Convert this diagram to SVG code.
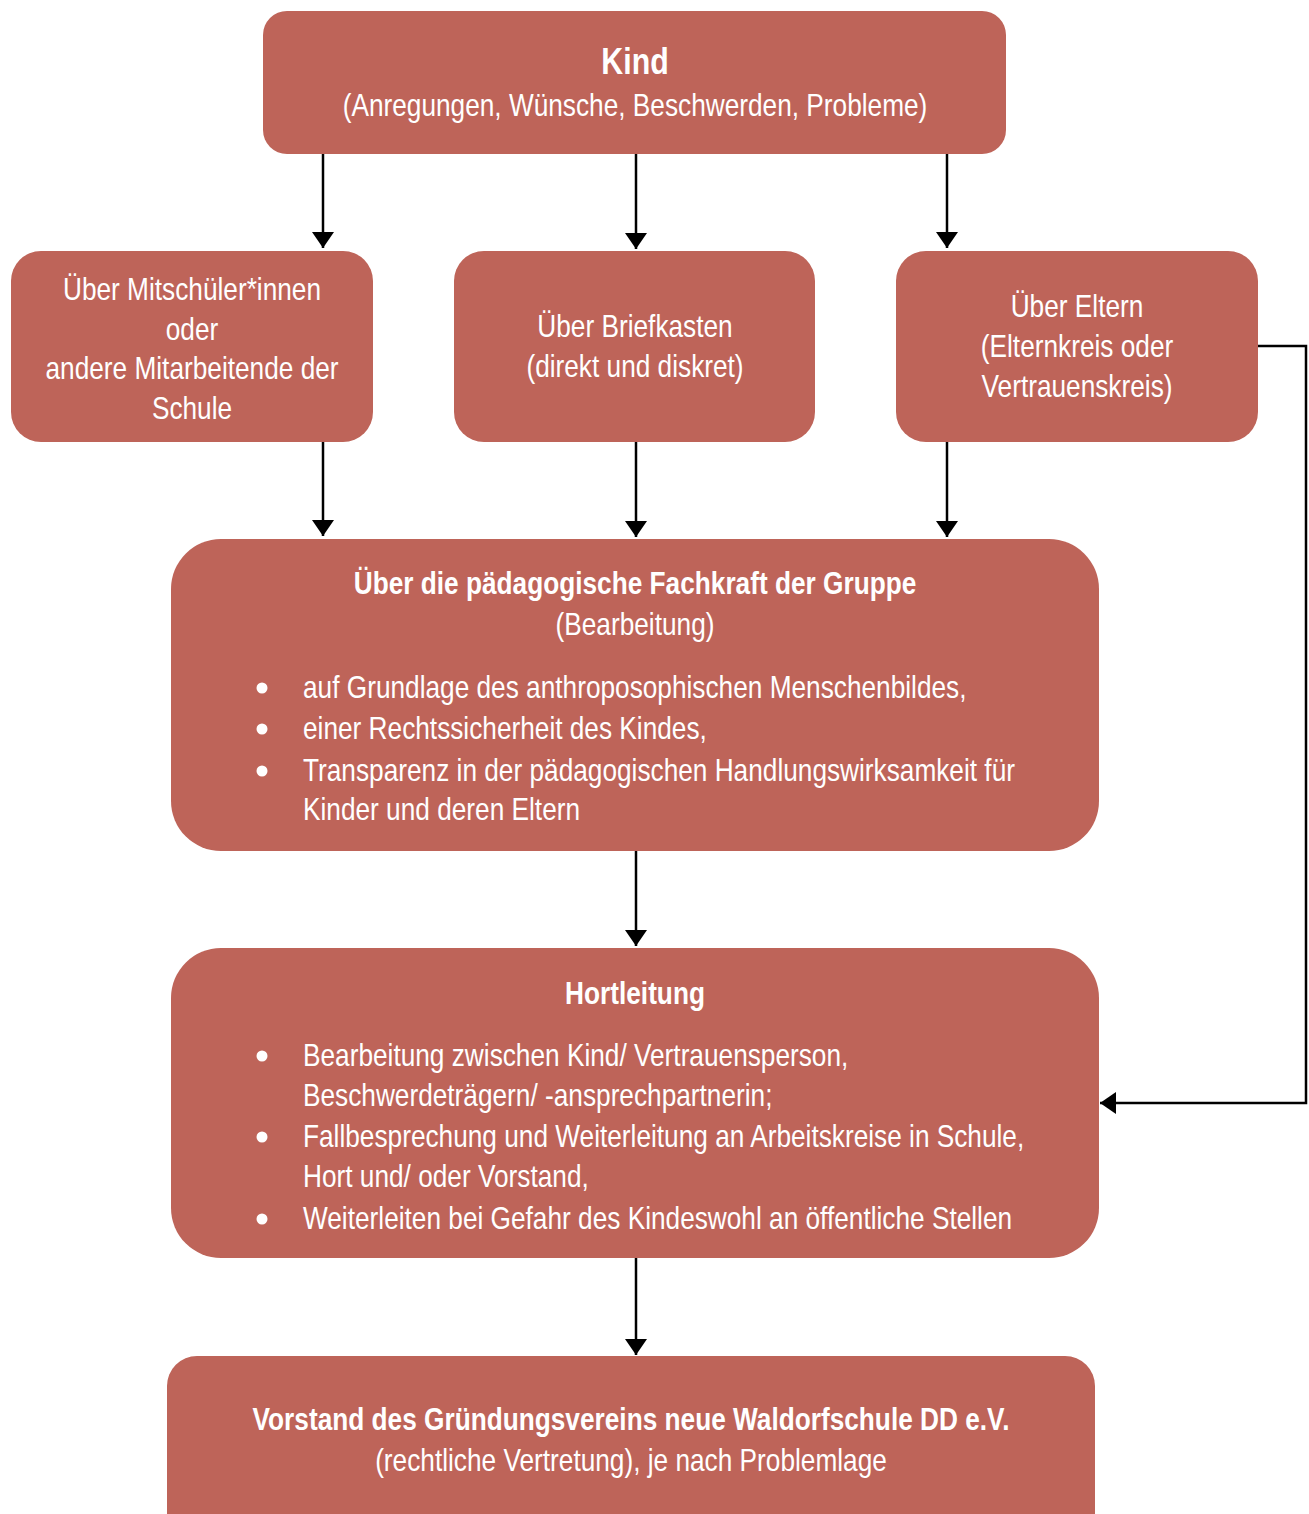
<svg xmlns="http://www.w3.org/2000/svg" width="1309" height="1514" viewBox="0 0 1309 1514">
<defs>
<style>
.box{fill:#BE6459;}
text{font-family:"Liberation Sans Narrow","Liberation Sans",Arial,sans-serif;font-size:32px;fill:#ffffff;}
.c{text-anchor:middle;}
.b{font-weight:bold;}
.conn{stroke:#000;stroke-width:2.5;fill:none;}
.dot{fill:#fff;}
</style>
<marker id="ah" viewBox="0 0 16 22" refX="16" refY="11" markerWidth="16" markerHeight="22" markerUnits="userSpaceOnUse" orient="auto">
<path d="M0,0 L16,11 L0,22 z" fill="#000"/>
</marker>
</defs>
<rect width="1309" height="1514" fill="#fff"/>
<g id="connectors">
<path class="conn" d="M323,154 V248" marker-end="url(#ah)"/>
<path class="conn" d="M636,154 V249" marker-end="url(#ah)"/>
<path class="conn" d="M947,154 V248" marker-end="url(#ah)"/>
<path class="conn" d="M323,442 V536" marker-end="url(#ah)"/>
<path class="conn" d="M636,442 V537" marker-end="url(#ah)"/>
<path class="conn" d="M947,442 V537" marker-end="url(#ah)"/>
<path class="conn" d="M636,851 V946" marker-end="url(#ah)"/>
<path class="conn" d="M636,1258 V1355" marker-end="url(#ah)"/>
<path class="conn" d="M1258,346 H1306 V1103 H1100" marker-end="url(#ah)"/>
</g>
<g id="kind">
<rect class="box" x="263" y="11" width="743" height="143" rx="24"/>
<text class="c b" transform="matrix(0.82,0,0,1,635,74)" style="font-size:37px">Kind</text>
<text class="c" transform="matrix(0.82,0,0,1,635,116)">(Anregungen, Wünsche, Beschwerden, Probleme)</text>
</g>
<g id="mitschueler">
<rect class="box" x="11" y="251" width="362" height="191" rx="30"/>
<text class="c" transform="matrix(0.82,0,0,1,192,300)">Über Mitschüler*innen</text>
<text class="c" transform="matrix(0.82,0,0,1,192,340)">oder</text>
<text class="c" transform="matrix(0.82,0,0,1,192,379)">andere Mitarbeitende der</text>
<text class="c" transform="matrix(0.82,0,0,1,192,419)">Schule</text>
</g>
<g id="briefkasten">
<rect class="box" x="454" y="251" width="361" height="191" rx="30"/>
<text class="c" transform="matrix(0.82,0,0,1,635,337)">Über Briefkasten</text>
<text class="c" transform="matrix(0.82,0,0,1,635,377)">(direkt und diskret)</text>
</g>
<g id="eltern">
<rect class="box" x="896" y="251" width="362" height="191" rx="30"/>
<text class="c" transform="matrix(0.82,0,0,1,1077,317)">Über Eltern</text>
<text class="c" transform="matrix(0.82,0,0,1,1077,357)">(Elternkreis oder</text>
<text class="c" transform="matrix(0.82,0,0,1,1077,397)">Vertrauenskreis)</text>
</g>
<g id="fachkraft">
<rect class="box" x="171" y="539" width="928" height="312" rx="50"/>
<text class="c b" transform="matrix(0.82,0,0,1,635,594)">Über die pädagogische Fachkraft der Gruppe</text>
<text class="c" transform="matrix(0.82,0,0,1,635,635)">(Bearbeitung)</text>
<circle class="dot" cx="262" cy="688" r="5.5"/>
<circle class="dot" cx="262" cy="729" r="5.5"/>
<circle class="dot" cx="262" cy="771" r="5.5"/>
<text transform="matrix(0.82,0,0,1,303,698)">auf Grundlage des anthroposophischen Menschenbildes,</text>
<text transform="matrix(0.82,0,0,1,303,739)">einer Rechtssicherheit des Kindes,</text>
<text transform="matrix(0.82,0,0,1,303,781)">Transparenz in der pädagogischen Handlungswirksamkeit für</text>
<text transform="matrix(0.82,0,0,1,303,820)">Kinder und deren Eltern</text>
</g>
<g id="hortleitung">
<rect class="box" x="171" y="948" width="928" height="310" rx="50"/>
<text class="c b" transform="matrix(0.82,0,0,1,635,1004)">Hortleitung</text>
<circle class="dot" cx="262" cy="1056" r="5.5"/>
<circle class="dot" cx="262" cy="1137" r="5.5"/>
<circle class="dot" cx="262" cy="1219" r="5.5"/>
<text transform="matrix(0.82,0,0,1,303,1066)">Bearbeitung zwischen Kind/ Vertrauensperson,</text>
<text transform="matrix(0.82,0,0,1,303,1106)">Beschwerdeträgern/ -ansprechpartnerin;</text>
<text transform="matrix(0.82,0,0,1,303,1147)">Fallbesprechung und Weiterleitung an Arbeitskreise in Schule,</text>
<text transform="matrix(0.82,0,0,1,303,1187)">Hort und/ oder Vorstand,</text>
<text transform="matrix(0.82,0,0,1,303,1229)">Weiterleiten bei Gefahr des Kindeswohl an öffentliche Stellen</text>
</g>
<g id="vorstand">
<rect class="box" x="167" y="1356" width="928" height="190" rx="30"/>
<text class="c b" transform="matrix(0.82,0,0,1,631,1430)">Vorstand des Gründungsvereins neue Waldorfschule DD e.V.</text>
<text class="c" transform="matrix(0.82,0,0,1,631,1471)">(rechtliche Vertretung), je nach Problemlage</text>
</g>
</svg>
